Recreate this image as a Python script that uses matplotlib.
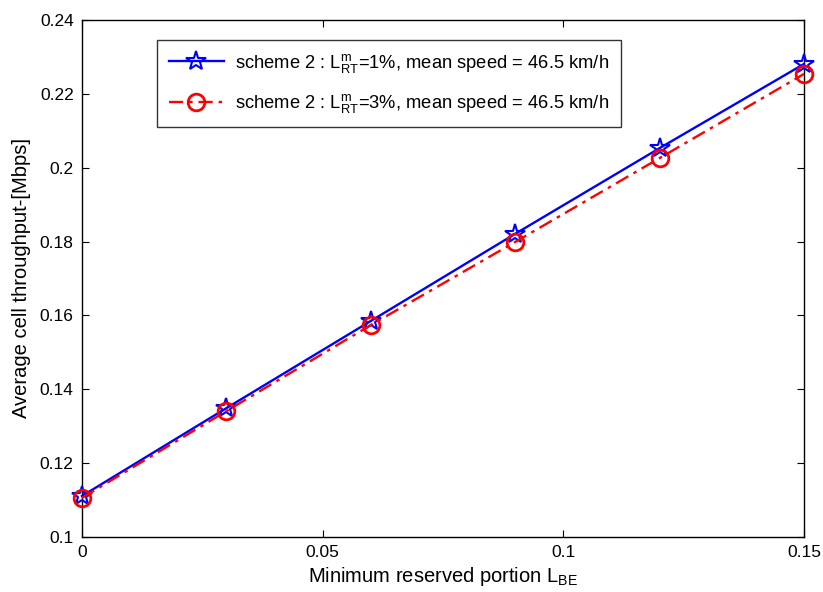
import matplotlib
matplotlib.use("Agg")
import matplotlib.pyplot as plt

plt.rcParams['font.family'] = ['Liberation Sans', 'DejaVu Sans']
plt.rcParams['mathtext.fontset'] = 'custom'
plt.rcParams['mathtext.rm'] = 'Liberation Sans'
plt.rcParams['mathtext.it'] = 'Liberation Sans'

x = [0, 0.03, 0.06, 0.09, 0.12, 0.15]
y_rt1 = [0.1111, 0.1349, 0.1585, 0.1821, 0.2053, 0.2281]
y_rt3 = [0.1106, 0.1341, 0.1574, 0.1799, 0.2026, 0.2254]
xticks = [0, 0.05, 0.1, 0.15]
xticklabels = ['0', '0.05', '0.1', '0.15']
yticks = [0.1, 0.12, 0.14, 0.16, 0.18, 0.2, 0.22, 0.24]
yticklabels = ['0.1', '0.12', '0.14', '0.16', '0.18', '0.2', '0.22', '0.24']
label1 = r'scheme 2 : $\mathrm{L}_{\mathrm{RT}}^{\mathrm{m}}$=1%, mean speed = 46.5 km/h'
label2 = r'scheme 2 : $\mathrm{L}_{\mathrm{RT}}^{\mathrm{m}}$=3%, mean speed = 46.5 km/h'

fig = plt.figure(figsize=(8.23, 5.92), dpi=100)
ax = fig.add_axes([82/823, 1-537/592, (804-82)/823, (537-20)/592])

ax.plot(x, y_rt1, color='#0000ff', linestyle='-', linewidth=1.7, marker='*',
        markersize=15, markerfacecolor='none', markeredgecolor='#0000ff',
        markeredgewidth=1.5, label=label1, clip_on=False, zorder=3)
ax.plot(x, y_rt3, color='#ff0000', linestyle=(0, (6, 2.5, 1.5, 2.5)), linewidth=1.7,
        marker='o', markersize=12, markerfacecolor='none', markeredgecolor='#ff0000',
        markeredgewidth=2, label=label2, clip_on=False, zorder=4)

ax.set_xlim(0, 0.15)
ax.set_ylim(0.1, 0.24)
ax.set_xticks(xticks)
ax.set_xticklabels(xticklabels)
ax.set_yticks(yticks)
ax.set_yticklabels(yticklabels)
ax.tick_params(direction='in', length=5, labelsize=12.5, top=True, right=True,
               labeltop=False, labelright=False, pad=6)
for s in ax.spines.values():
    s.set_linewidth(1.0)

ax.set_xlabel(r'Minimum reserved portion L$_{\mathrm{BE}}$', fontsize=14.5, labelpad=3)
ax.set_ylabel('Average cell throughput-[Mbps]', fontsize=14.5, labelpad=6)

leg = ax.legend(loc='upper left', bbox_to_anchor=((157-82)/722, 1-(40-20)/517),
                borderaxespad=0, fontsize=13.2, frameon=True, fancybox=False,
                edgecolor='black', handlelength=3.0, borderpad=0.65,
                labelspacing=0.95, handletextpad=0.6)
leg.get_frame().set_linewidth(1.0)

fig.savefig('out.png', dpi=100)
